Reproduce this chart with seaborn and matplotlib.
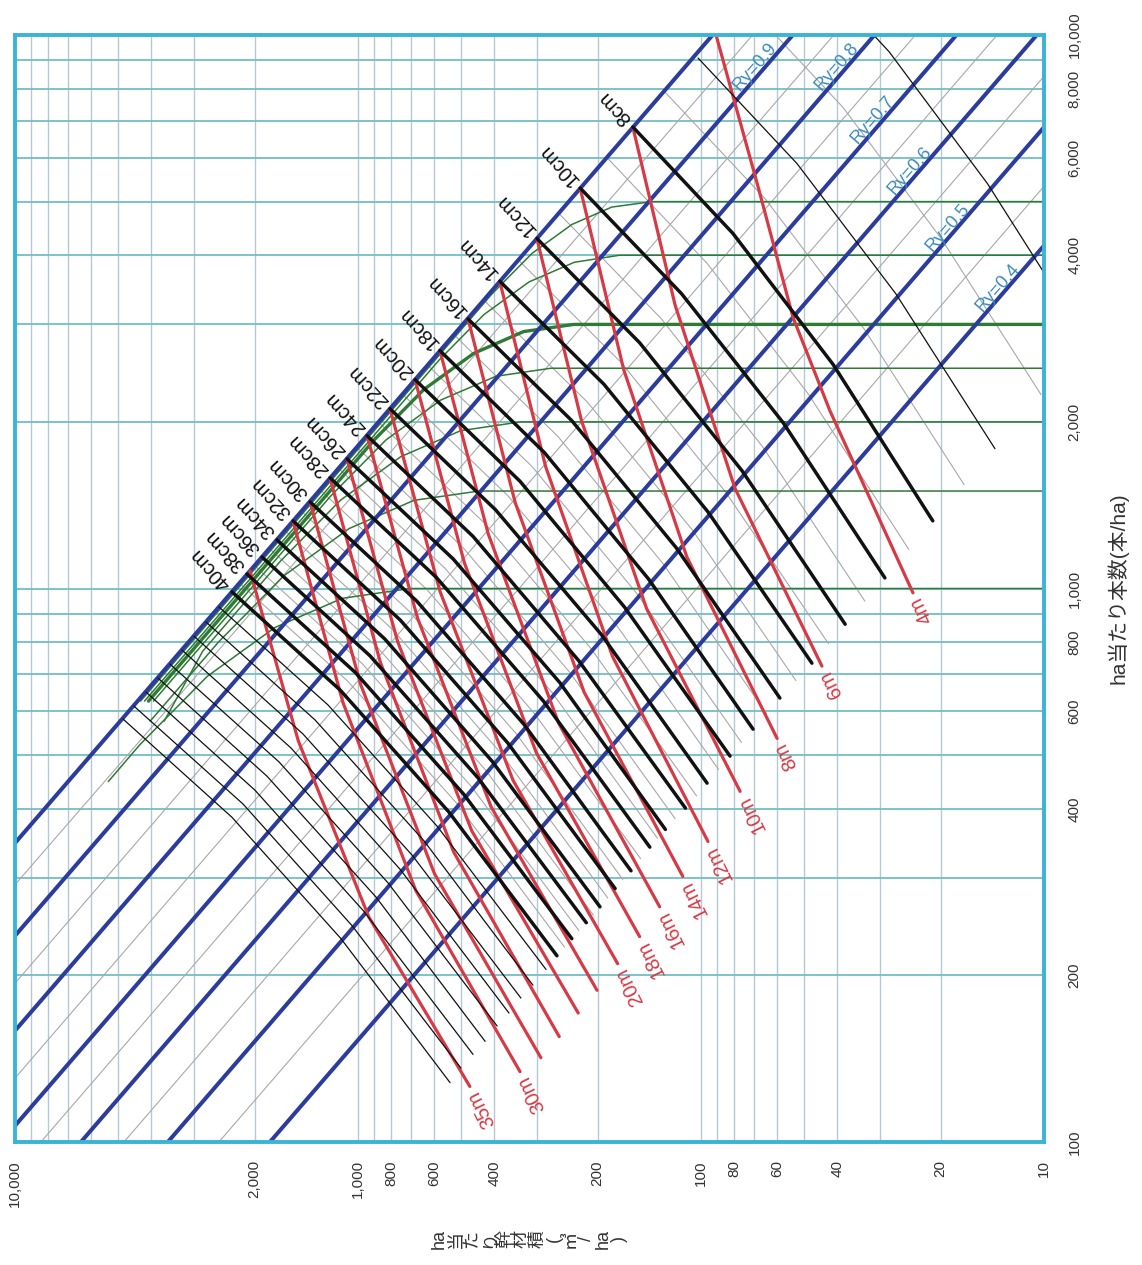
import matplotlib
matplotlib.use("Agg")
import matplotlib.pyplot as plt
from matplotlib.ticker import NullLocator
import seaborn as sns
import pandas as pd

sns.set_theme(style="white")
plt.rcParams["font.family"] = ["Liberation Sans", "Noto Sans CJK JP", "DejaVu Sans"]

# ---------------- axis ticks / grid ----------------
vol_ticks = [10000, 2000, 1000, 800, 600, 400, 200, 100, 80, 60, 40, 20, 10]
vol_ticklabels = ["10,000", "2,000", "1,000", "800", "600", "400", "200",
                  "100", "80", "60", "40", "20", "10"]
dens_ticks = [10000, 8000, 6000, 4000, 2000, 1000, 800, 600, 400, 200, 100]
dens_ticklabels = ["10,000", "8,000", "6,000", "4,000", "2,000", "1,000",
                   "800", "600", "400", "200", "100"]
vol_grid = [10, 20, 30, 40, 50, 60, 70, 80, 90, 100, 200, 300, 400, 500, 600,
            700, 800, 900, 1000, 2000, 3000, 4000, 5000, 6000, 7000, 8000, 9000, 10000]
dens_grid = [100, 200, 300, 400, 500, 600, 700, 800, 900, 1000, 2000, 3000,
             4000, 5000, 6000, 7000, 8000, 9000, 10000]

# ---------------- Ry lines (volume at N=10000 and N=100) ----------------
ry_levels = ["1.0", "0.9", "0.8", "0.7", "0.6", "0.5", "0.4"]
ry_v_hi_n = [92.5, 54.0, 31.2, 18.0, 10.5, 5.86, 2.95]
ry_v_lo_n = [56550, 33050, 19060, 10990, 6425, 3584, 1806]
ry_mid_v_hi_n = [70.7, 41.0, 23.7, 13.7, 7.87, 4.16]
ry_mid_v_lo_n = [44800, 25100, 14480, 8405, 4813, 2544]
ry_label_text = ["Ry=0.9", "Ry=0.8", "Ry=0.7", "Ry=0.6", "Ry=0.5", "Ry=0.4"]
ry_label_v = [69.6, 40.1, 31.5, 24.6, 19.05, 13.6]
ry_label_n = [8752, 8752, 7018, 5697, 4493, 3499]

# ---------------- equal diameter lines ----------------
diam_cm = [8, 10, 12, 14, 16, 18, 20, 22, 24, 26, 28, 30, 32, 34, 36, 38, 40]
diam_V = [
    [158, 80.7, 41.2, 21.1], [225, 114, 57.5, 29.1], [301, 151, 75.8, 38.0],
    [386, 192, 95.4, 47.5], [478, 238, 118, 58.9], [577, 286, 142, 70.5],
    [682, 337, 167, 82.3], [807, 397, 195, 96.0], [941, 462, 227, 111],
    [1077, 528, 258, 127], [1207, 590, 288, 141], [1380, 673, 328, 160],
    [1547, 753, 366, 178], [1723, 836, 406, 197], [1905, 923, 447, 216],
    [2107, 1018, 492, 238], [2330, 1126, 544, 263],
]
diam_N = [
    [6820, 4380, 2540, 1325], [5290, 3410, 1990, 1045], [4290, 2780, 1630, 862],
    [3590, 2340, 1375, 733], [3070, 2010, 1184, 634], [2690, 1760, 1039, 557],
    [2385, 1562, 925, 498], [2113, 1387, 825, 445], [1888, 1242, 740, 401],
    [1715, 1131, 676, 367], [1585, 1046, 626, 341], [1434, 948, 568, 309],
    [1325, 877, 526, 287], [1224, 811, 487, 266], [1140, 756, 455, 249],
    [1062, 705, 425, 233], [986, 655, 395, 217],
]
# thin black diameter lines beyond 40cm and below 8cm
thin_diam_V = [
    [2543, 1223, 588, 283], [2774, 1335, 642, 309], [3007, 1447, 696, 335],
    [3259, 1568, 754, 363], [3532, 1699, 818, 393], [3829, 1842, 886, 426],
    [4150, 1996, 961, 462], [4499, 2164, 1041, 501], [4842, 2330, 1121, 539],
    [102, 52.5, 27.0, 13.9], [55.0, 28.3, 14.6, 7.49],
]
thin_diam_N = [
    [926, 616, 372, 205], [870, 579, 350, 192], [820, 546, 330, 182],
    [774, 515, 311, 171], [730, 486, 294, 162], [689, 458, 277, 152],
    [650, 432, 261, 144], [613, 408, 246, 136], [581, 386, 233, 128],
    [9087, 5858, 3404, 1789], [14550, 9330, 5384, 2805],
]
# grey odd diameter lines (5, 7, ..., 39 cm)
odd_diam_cm = [5, 7, 9, 11, 13, 15, 17, 19, 21, 23, 25, 27, 29, 31, 33, 35, 37, 39]
odd_diam_V = [
    [74.9, 38.5, 19.9, 10.2], [127, 65.1, 33.4, 17.1], [188, 95.9, 48.7, 24.8],
    [260, 131, 66.0, 33.3], [341, 170, 85.0, 42.5], [430, 214, 106, 52.9],
    [525, 261, 129, 64.4], [627, 310, 154, 76.2], [742, 366, 180, 88.9],
    [871, 428, 210, 103], [1007, 494, 242, 119], [1140, 558, 273, 134],
    [1291, 630, 307, 150], [1461, 712, 346, 169], [1633, 793, 385, 187],
    [1812, 878, 426, 206], [2003, 969, 469, 227], [2216, 1071, 517, 250],
]
odd_diam_N = [
    [11500, 7393, 4281, 2240], [7872, 5065, 2940, 1540], [6006, 3865, 2248, 1177],
    [4764, 3079, 1801, 949], [3924, 2551, 1497, 795], [3320, 2169, 1276, 682],
    [2874, 1881, 1109, 594], [2533, 1658, 980, 527], [2245, 1472, 874, 471],
    [1997, 1313, 781, 422], [1799, 1185, 707, 384], [1649, 1088, 651, 354],
    [1508, 996, 596, 325], [1378, 912, 547, 298], [1273, 843, 506, 276],
    [1181, 783, 471, 257], [1100, 730, 440, 241], [1023, 680, 410, 225],
]

# ---------------- equal height lines ----------------
height_m = [4, 6, 8, 10, 12, 14, 16, 18, 20, 22, 24, 26, 28, 30, 35]
height_V = [
    [90.4, 68.6, 53.9, 42.1, 24.1], [158, 119, 79.6, 44.4], [225, 168, 110, 60.0],
    [301, 223, 144, 76.9], [386, 284, 181, 95.4], [478, 348, 219, 113],
    [577, 417, 260, 132], [682, 489, 302, 151], [807, 576, 353, 175],
    [941, 670, 409, 201], [1077, 766, 466, 228], [1207, 861, 526, 259],
    [1380, 981, 598, 293], [1547, 1106, 679, 337], [2065, 1492, 930, 472],
]
height_N = [
    [10000, 5396, 3087, 2096, 982], [6816, 3252, 1517, 724], [5285, 2485, 1141, 536],
    [4290, 2009, 919, 430], [3587, 1663, 753, 349], [3074, 1429, 649, 302],
    [2691, 1254, 571, 266], [2385, 1110, 505, 235], [2113, 986, 450, 210],
    [1888, 883, 403, 188], [1715, 801, 365, 171], [1585, 736, 334, 155],
    [1434, 669, 305, 142], [1325, 622, 285, 134], [1076, 530, 255, 126],
]
height_labelled = [4, 6, 8, 10, 12, 14, 16, 18, 20, 30, 35]

# ---------------- natural thinning lines ----------------
green_n0 = [5000, 4000, 3000, 2500, 2000, 1500, 1000]
green_V = [
    [10, 139, 182, 238, 311, 407, 754, 1348, 2409, 4306],
    [10, 173, 234, 317, 429, 580, 734, 1313, 2346, 4192],
    [10, 235, 329, 460, 643, 899, 1277, 2284, 4081],
    [10, 274, 396, 573, 829, 1199, 2208, 3947],
    [10, 336, 502, 751, 1123, 1680, 2834, 3673],
    [10, 444, 687, 1062, 1643, 2543, 4035],
    [10, 706, 1111, 1748, 2750, 4327, 5346],
]
green_N = [
    [5000, 5000, 4888, 4546, 4031, 3405, 2185, 1440, 949, 626],
    [4000, 4000, 3885, 3581, 3127, 2587, 2185, 1440, 949, 626],
    [3000, 3000, 2912, 2659, 2288, 1853, 1440, 949, 626],
    [2500, 2500, 2418, 2191, 1855, 1471, 949, 626],
    [2000, 2000, 1928, 1730, 1445, 1122, 771, 576],
    [1500, 1500, 1443, 1283, 1055, 802, 576],
    [1000, 1000, 960, 850, 694, 522, 448],
]

BLUE = "#2b3c9d"
RED = "#d63a45"
GREEN = "#2f7a35"
RYTXT = "#3a8bbd"


def to_long(names, v_lists, n_lists):
    rows = []
    for name, vs, ns in zip(names, v_lists, n_lists):
        for k, (v, n) in enumerate(zip(vs, ns)):
            rows.append({"line": str(name), "step": k, "V": v, "N": n})
    return pd.DataFrame(rows)


def draw(df, **kw):
    sns.lineplot(data=df, x="V", y="N", units="line", estimator=None,
                 sort=False, ax=ax, legend=False, **kw)


fig = plt.figure(figsize=(11.42, 12.65), dpi=100)
ax = fig.add_axes([15 / 1142, 123 / 1265, 1029 / 1142, 1107 / 1265])
ax.set_xscale("log")
ax.set_yscale("log")

# grid
for v in vol_grid:
    ax.axvline(v, color="#b5c9d3", lw=1.0, zorder=0)
for n in dens_grid:
    ax.axhline(n, color="#72bec4", lw=1.3, zorder=0)

# thin grey lines: intermediate Ry and odd diameters
draw(to_long(range(len(ry_mid_v_hi_n)),
             [[a, b] for a, b in zip(ry_mid_v_hi_n, ry_mid_v_lo_n)],
             [[10000, 100]] * len(ry_mid_v_hi_n)),
     color="#a8a8a8", lw=0.8, zorder=1)
draw(to_long(odd_diam_cm, odd_diam_V, odd_diam_N), color="#a8a8a8", lw=0.8, zorder=1)

# natural thinning lines
for n0, vs, ns in zip(green_n0, green_V, green_N):
    sns.lineplot(x=vs, y=ns, sort=False, estimator=None, color=GREEN,
                 lw=2.4 if n0 == 3000 else 1.1, ax=ax, legend=False, zorder=2)

# Ry lines
draw(to_long(ry_levels, [[a, b] for a, b in zip(ry_v_hi_n, ry_v_lo_n)],
             [[10000, 100]] * len(ry_levels)),
     color=BLUE, lw=2.9, zorder=3)

# height lines
draw(to_long(height_m, height_V, height_N), color=RED, lw=2.3, zorder=4)

# diameter lines
draw(to_long(range(len(thin_diam_V)), thin_diam_V, thin_diam_N),
     color="#111111", lw=0.9, zorder=5)
draw(to_long(diam_cm, diam_V, diam_N), color="#111111", lw=2.5, zorder=5)

# labels
for d, vs, ns in zip(diam_cm, diam_V, diam_N):
    ax.annotate(f"{d}cm", xy=(vs[0], ns[0]), xytext=(-3.5, 3.8),
                textcoords="offset points", rotation=133, rotation_mode="anchor",
                ha="left", va="center", fontsize=14.5, color="#111111", zorder=8)
for h, vs, ns in zip(height_m, height_V, height_N):
    if h in height_labelled:
        ax.annotate(f"{h}m", xy=(vs[-1], ns[-1]), xytext=(1.8, -3.6),
                    textcoords="offset points", rotation=116.6,
                    rotation_mode="anchor", ha="right", va="center",
                    fontsize=14.5, color=RED, zorder=8)
for t, v, n in zip(ry_label_text, ry_label_v, ry_label_n):
    ax.text(v, n, t, rotation=49, rotation_mode="anchor", ha="center",
            va="center", fontsize=13, color=RYTXT, zorder=8)

ax.set_xlim(10000, 10)
ax.set_ylim(100, 10000)

ax.xaxis.set_minor_locator(NullLocator())
ax.yaxis.set_minor_locator(NullLocator())
ax.set_xticks(vol_ticks)
ax.set_xticklabels(vol_ticklabels, rotation=90)
ax.yaxis.tick_right()
ax.set_yticks(dens_ticks)
ax.set_yticklabels(dens_ticklabels, rotation=90, va="center")
ax.tick_params(axis="x", length=0, pad=13, labelsize=11, colors="#333333")
ax.tick_params(axis="y", length=0, pad=17, labelsize=11, colors="#333333")

ax.set_xlabel("\n".join(["ha", "当", "た", "り", "幹", "材", "積", "(", "㎥", "/", "ha", ")"]),
              rotation=90, fontsize=13, linespacing=0.95, labelpad=16,
              color="#333333")
ax.yaxis.set_label_position("right")
ax.set_ylabel("ha当たり本数(本/ha)", rotation=90, fontsize=15, labelpad=18,
              color="#333333")

for s in ax.spines.values():
    s.set_color("#39b4d6")
    s.set_linewidth(2.8)
    s.set_zorder(10)

fig.savefig("out.png", dpi=100)
